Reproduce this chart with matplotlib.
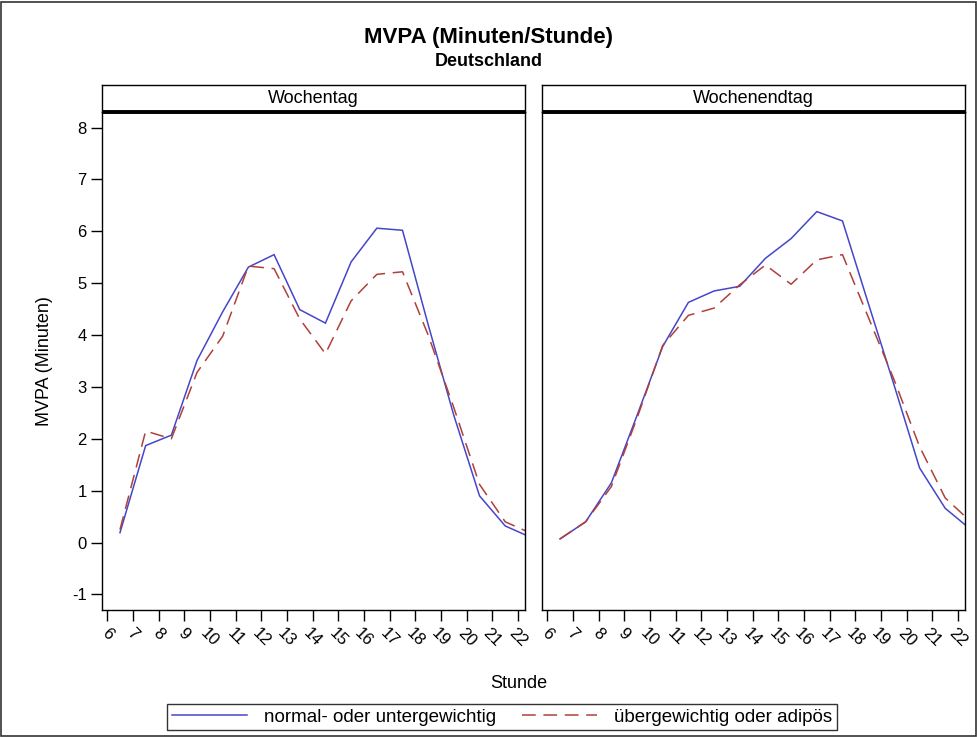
import matplotlib.pyplot as plt
from matplotlib.patches import Rectangle
from matplotlib.lines import Line2D

plt.rcParams['font.family'] = ['Liberation Sans', 'DejaVu Sans']
plt.rcParams['axes.unicode_minus'] = False

# Stunde (Mitte des Stundenintervalls)
stunde = [6.5, 7.5, 8.5, 9.5, 10.5, 11.5, 12.5, 13.5, 14.5, 15.5, 16.5, 17.5, 18.5, 19.5, 20.5, 21.5, 22.5]
tick_stunden = list(range(6, 23))

wochentag_normal = [0.19, 1.87, 2.07, 3.51, 4.45, 5.31, 5.55, 4.49, 4.23, 5.41, 6.06, 6.02, 4.20, 2.45, 0.90, 0.32, 0.10]
wochentag_adipos = [0.25, 2.15, 2.00, 3.28, 3.98, 5.33, 5.28, 4.31, 3.64, 4.66, 5.17, 5.22, 4.00, 2.60, 1.12, 0.40, 0.18]
wochenende_normal = [0.07, 0.40, 1.15, 2.45, 3.78, 4.63, 4.85, 4.94, 5.48, 5.86, 6.38, 6.20, 4.62, 3.05, 1.44, 0.66, 0.25]
wochenende_adipos = [0.07, 0.40, 1.08, 2.40, 3.80, 4.38, 4.52, 4.97, 5.35, 4.98, 5.45, 5.55, 4.35, 3.15, 1.85, 0.86, 0.40]

panele = ['Wochentag', 'Wochenendtag']
serije = ['normal- oder untergewichtig', 'übergewichtig oder adipös']

plava = '#4646c8'
crvena = '#b0403a'

fig = plt.figure(figsize=(9.78, 7.37), dpi=100)
W, H = 978.0, 737.0

# okvir oko cijele slike
fig.patches.append(Rectangle((1.5 / W, 1.5 / H), 1 - 3.5 / W, 1 - 3.5 / H, transform=fig.transFigure,
                             fill=False, edgecolor='#333333', linewidth=1.2))

fig.text(0.5, 1 - 37 / H, 'MVPA (Minuten/Stunde)', ha='center', va='center', fontsize=16, fontweight='bold')
fig.text(0.5, 1 - 62 / H, 'Deutschland', ha='center', va='center', fontsize=13, fontweight='bold')

lijevo = [102, 542]
sirina = 423
vrh, dno = 112, 610
zaglavlje = 27

podaci = [(wochentag_normal, wochentag_adipos), (wochenende_normal, wochenende_adipos)]

for i in range(2):
    ax = fig.add_axes([lijevo[i] / W, 1 - dno / H, sirina / W, (dno - vrh) / H])
    normal, adipos = podaci[i]
    ax.plot(stunde, normal, color=plava, linewidth=1.1, solid_joinstyle='miter')
    ax.plot(stunde, adipos, color=crvena, linewidth=1.1, dashes=(9, 5))
    ax.set_xlim(5.8, 22.27)
    ax.set_ylim(-1.3, 8.3)
    ax.set_xticks(tick_stunden)
    ax.set_xticklabels([str(s) for s in tick_stunden], rotation=-45, ha='center', va='top',
                       rotation_mode='default', fontsize=12)
    ax.set_yticks(range(-1, 9))
    ax.tick_params(direction='out', length=8, width=1, colors='black', labelsize=12, pad=3)
    if i == 0:
        ax.set_ylabel('MVPA (Minuten)', fontsize=13, labelpad=14)
    else:
        ax.tick_params(axis='y', left=False, labelleft=False)
    for s in ax.spines.values():
        s.set_linewidth(1.0)

    # zaglavlje panela
    hx = fig.add_axes([lijevo[i] / W, 1 - vrh / H, sirina / W, zaglavlje / H])
    hx.set_xticks([])
    hx.set_yticks([])
    hx.text(0.5, 0.5, panele[i], ha='center', va='center', fontsize=13, transform=hx.transAxes)
    for s in hx.spines.values():
        s.set_linewidth(1.0)
    hx.spines['bottom'].set_linewidth(2.8)
    hx.spines['bottom'].set_capstyle('butt')

fig.text(519 / W, 1 - 683 / H, 'Stunde', ha='center', va='center', fontsize=13)

ruke = [Line2D([], [], color=plava, linewidth=1.1),
        Line2D([], [], color=crvena, linewidth=1.1, dashes=(9, 5))]
leg = fig.legend(ruke, serije, loc='center', bbox_to_anchor=(502 / W, 1 - 717 / H), ncol=2,
                 fontsize=13.5, frameon=True, fancybox=False, handlelength=4.0, handletextpad=0.9,
                 columnspacing=1.4, borderpad=0.25, borderaxespad=0)
leg.get_frame().set_edgecolor('black')
leg.get_frame().set_linewidth(1.0)

plt.savefig('out.png', dpi=100)
